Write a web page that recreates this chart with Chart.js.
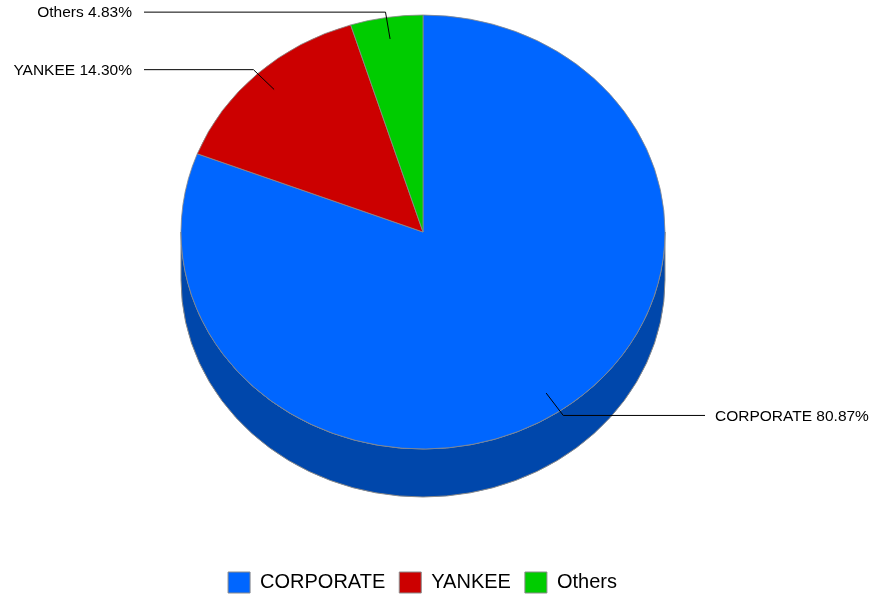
<!DOCTYPE html>
<html>
<head>
    <title>Bond type pie</title>
    <meta charset="UTF-8">
    <script src="https://cdn.jsdelivr.net/npm/chart.js@4/dist/chart.umd.min.js"></script>
    <style>
        html, body { margin: 0; padding: 0; background: #fff; }
        #wrap { width: 871px; height: 595px; }
    </style>
</head>
<body>
<div id="wrap"><canvas id="myChart"></canvas></div>
<script>
    // data
    const categories = ['CORPORATE', 'YANKEE', 'Others'];
    const shares = [80.87, 14.30, 4.83];
    const topColors = ['#0066FF', '#CC0000', '#00CC00'];
    const sideColors = ['#0047AB', '#8E0000', '#008E00'];

    // where the tilted pie sits on the page
    const pie3d = { cx: 423, cy: 232, rx: 242, ry: 217, depth: 48 };

    function normAngle(a) {
        const t = Math.PI * 2;
        return ((a % t) + t) % t;
    }

    const tiltPlugin = {
        id: 'tilt',
        beforeDatasetsDraw(chart) {
            const ctx = chart.ctx;
            const meta = chart.getDatasetMeta(0);
            const p = pie3d;
            // side wall, only the front half (0..PI) shows
            meta.data.forEach((arc, i) => {
                let s = normAngle(arc.startAngle);
                let e = s + (arc.endAngle - arc.startAngle);
                const ranges = [[0, Math.PI], [Math.PI * 2, Math.PI * 3]];
                ranges.forEach(r => {
                    const a = Math.max(s, r[0]);
                    const b = Math.min(e, r[1]);
                    if (b <= a) return;
                    ctx.save();
                    ctx.beginPath();
                    ctx.ellipse(p.cx, p.cy, p.rx, p.ry, 0, a, b);
                    ctx.ellipse(p.cx, p.cy + p.depth, p.rx, p.ry, 0, b, a, true);
                    ctx.closePath();
                    ctx.fillStyle = sideColors[i];
                    ctx.fill();
                    ctx.strokeStyle = '#8a8a8a';
                    ctx.lineWidth = 1;
                    ctx.stroke();
                    ctx.restore();
                });
            });
            // squash the round pie into the top face
            const el = meta.data[0];
            const r = el.outerRadius;
            ctx.save();
            ctx.translate(p.cx, p.cy);
            ctx.scale(p.rx / r, p.ry / r);
            ctx.translate(-el.x, -el.y);
        },
        afterDatasetsDraw(chart) {
            const ctx = chart.ctx;
            ctx.restore();
            const meta = chart.getDatasetMeta(0);
            const p = pie3d;
            ctx.save();
            ctx.font = '15.5px "Liberation Sans", Arial, sans-serif';
            ctx.fillStyle = '#000';
            ctx.strokeStyle = '#000';
            ctx.lineWidth = 1;
            ctx.textBaseline = 'middle';
            meta.data.forEach((arc, i) => {
                const mid = (arc.startAngle + arc.endAngle) / 2;
                const c = Math.cos(mid), s = Math.sin(mid);
                const x0 = p.cx + 0.9 * p.rx * c, y0 = p.cy + 0.9 * p.ry * s;
                const x1 = p.cx + 1.025 * p.rx * c, y1 = p.cy + 1.025 * p.ry * s;
                const right = c >= 0;
                const x2 = right ? p.cx + p.rx + 40 : p.cx - p.rx - 37;
                ctx.beginPath();
                ctx.moveTo(x0, y0);
                ctx.lineTo(x1, y1);
                ctx.lineTo(x2, y1);
                ctx.stroke();
                const text = categories[i] + ' ' + shares[i].toFixed(2) + '%';
                ctx.textAlign = right ? 'left' : 'right';
                ctx.fillText(text, right ? x2 + 10 : x2 - 12, y1 + 1);
            });
            ctx.restore();
        }
    };

    const ctx = document.getElementById('myChart').getContext('2d');
    const myChart = new Chart(ctx, {
        type: 'pie',
        data: {
            labels: categories,
            datasets: [{
                data: shares,
                backgroundColor: topColors,
                borderColor: '#8a8a8a',
                borderWidth: 1,
                clip: false
            }]
        },
        options: {
            responsive: true,
            maintainAspectRatio: false,
            animation: false,
            events: [],
            layout: { padding: { bottom: -8, right: 26 } },
            plugins: {
                tooltip: { enabled: false },
                legend: {
                    position: 'bottom',
                    labels: {
                        boxWidth: 22,
                        boxHeight: 21,
                        padding: 14,
                        color: '#000',
                        font: { family: '"Liberation Sans", Arial, sans-serif', size: 20 }
                    }
                }
            }
        },
        plugins: [tiltPlugin]
    });
</script>
</body>
</html>
